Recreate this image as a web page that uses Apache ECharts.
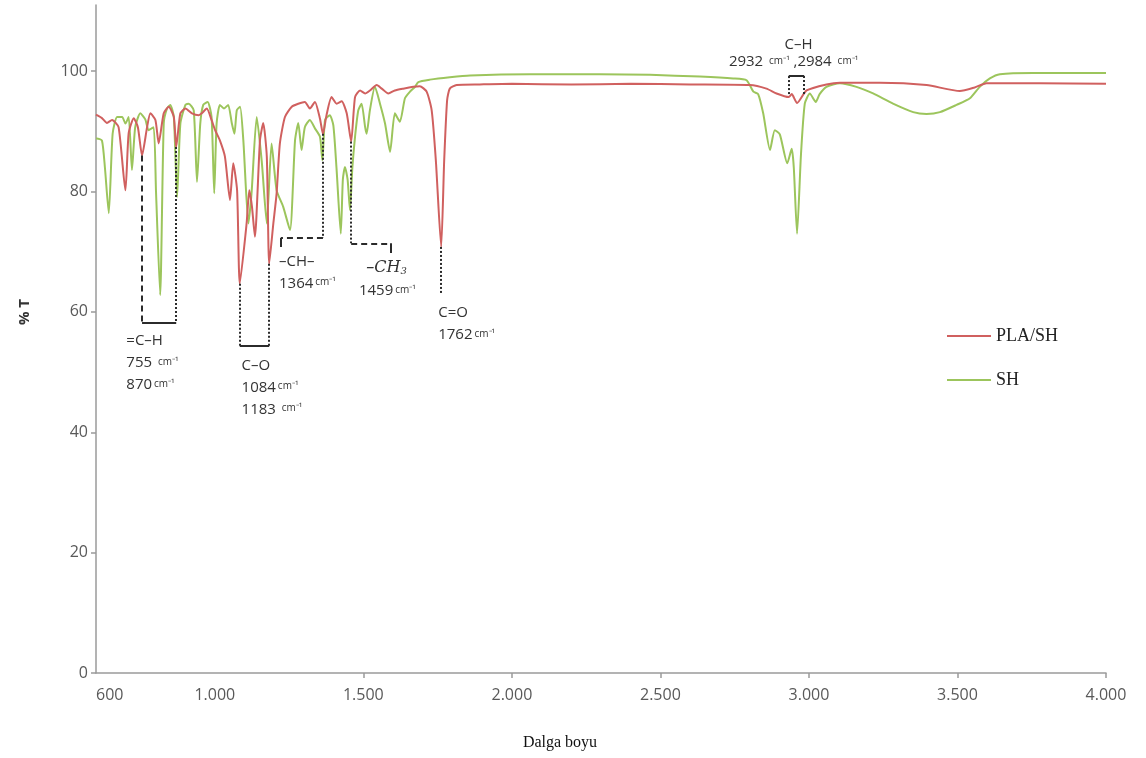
<!DOCTYPE html>
<html>
<head>
<meta charset="utf-8">
<script src="https://cdn.jsdelivr.net/npm/echarts@6/dist/echarts.min.js"></script>
<style>
  html, body { margin: 0; padding: 0; background: #fff; }
  #chart { width: 1146px; height: 758px; }
</style>
</head>
<body>
<div id="chart"></div>
<script>
// FTIR spectra: wavenumber (cm-1) vs. transmittance (%)
const plaWavenumber = [600,603,620,637,654,676,699,710,727,741,755,772,783,800,811,828,845,862,870,884,901,923,946,956,973,989,1001,1017,1034,1051,1062,1075,1084,1107,1116,1125,1135,1152,1163,1175,1183,1197,1208,1219,1236,1259,1281,1303,1320,1337,1354,1364,1376,1393,1410,1427,1444,1459,1472,1489,1506,1522,1545,1562,1584,1606,1634,1668,1690,1713,1730,1744,1762,1772,1782,1791,1814,1892,2000,2200,2400,2600,2801,2857,2891,2932,2942,2960,2992,3059,3104,3239,3396,3508,3558,3598,3777,4000];
const plaTransmittance = [92.8,92.7,92.2,91.4,91.9,90.7,80.2,89.7,92.2,90.7,86.0,90.7,93.0,91.9,88.0,93.0,94.1,92.4,87.4,93.0,93.8,93.0,92.7,93.0,93.8,91.9,90.2,88.5,85.8,78.6,84.7,80.2,64.7,74.7,80.2,77.5,72.5,88.5,91.4,85.8,68.0,74.7,79.7,88.0,92.4,94.1,94.6,94.9,93.8,94.9,92.1,89.6,92.7,95.7,94.6,95.0,93.0,88.3,95.7,96.8,96.3,96.8,97.7,97.1,96.3,96.8,97.1,97.4,97.5,96.6,93.5,85.2,70.8,85.0,95.2,97.1,97.7,97.8,97.9,97.8,97.9,97.8,97.7,97.1,96.3,95.7,96.2,94.7,96.8,97.8,98.1,98.1,97.7,96.7,97.3,98.0,98.0,97.9];

const shWavenumber = [600,603,620,630,643,656,671,688,699,710,721,732,749,766,777,794,802,816,828,839,850,862,873,884,901,912,929,940,951,961,976,989,998,1006,1017,1031,1045,1057,1066,1074,1085,1096,1113,1124,1141,1158,1175,1191,1208,1230,1253,1270,1281,1292,1303,1320,1337,1354,1362,1371,1387,1399,1410,1424,1431,1438,1447,1455,1463,1472,1483,1494,1506,1511,1522,1539,1556,1573,1590,1606,1623,1640,1657,1674,1685,1724,1791,1859,2061,2296,2465,2633,2745,2790,2813,2829,2846,2869,2885,2902,2927,2942,2949,2960,2973,2986,3003,3023,3036,3059,3104,3160,3216,3283,3351,3396,3441,3497,3542,3575,3609,3643,3754,4000];
const shTransmittance = [88.8,88.8,88.5,84.0,76.4,89.6,92.4,92.4,91.3,92.4,83.6,90.7,93.0,92.0,90.2,90.7,80.0,62.8,91.3,93.8,94.4,92.4,79.1,91.3,94.4,94.6,93.5,81.6,91.3,94.4,94.9,92.4,79.7,91.3,94.4,93.8,94.4,91.4,89.6,93.5,94.1,88.5,74.7,80.0,92.4,85.0,74.7,88.0,80.2,77.5,73.6,88.5,91.4,86.9,90.7,91.9,90.5,89.1,85.2,91.9,92.7,91.0,83.6,73.0,82.0,84.1,82.0,76.9,84.0,89.1,93.5,94.6,90.7,89.6,93.5,97.4,94.6,91.3,86.6,93.0,91.6,95.5,96.6,97.4,98.2,98.6,99.0,99.3,99.5,99.5,99.4,99.1,98.8,98.5,96.6,96.2,93.0,86.9,90.2,89.5,84.7,87.1,84.0,73.0,86.0,94.6,96.3,94.9,96.2,97.4,98.0,97.4,96.3,94.6,93.2,92.9,93.2,94.4,95.5,97.4,98.8,99.5,99.7,99.7];

const seriesNames = ['PLA/SH', 'SH'];
const xLabelValues = [600, 1000, 1500, 2000, 2500, 3000, 3500, 4000];
const xTickValues = [1500, 2000, 2500, 3000, 3500, 4000];
const yLabelValues = [0, 20, 40, 60, 80, 100];

// Band assignments: [wavenumber, band minimum %T]
const bandCH_aromatic = [[755, 86.0], [870, 87.4]];
const bandCO = [[1084, 64.7], [1183, 68.0]];
const bandCH = [1364, 89.6];
const bandCH3 = [1459, 88.3];
const bandCO_double = [1762, 70.8];
const bandCH_stretch = [2932, 2984];

const pairs = (xs, ys) => xs.map((x, i) => [x, ys[i]]);
const fmtThousands = v => v >= 1000 ? String(v).replace(/(\d)(\d{3})$/, '$1.$2') : String(v);

const dark = '#2b2b2b';
const dotted = [2, 2];
const dashed = [6, 4];

// bracket / leader segments
const seg = (a, b, type) => [{ coord: a, lineStyle: { type: type, color: dark, width: 2 } }, { coord: b }];
const annotationLines = [
  seg([bandCH_aromatic[0][0], bandCH_aromatic[0][1]], [bandCH_aromatic[0][0], 58.2], dashed),
  seg([bandCH_aromatic[1][0], bandCH_aromatic[1][1]], [bandCH_aromatic[1][0], 58.2], dotted),
  seg([bandCH_aromatic[0][0], 58.2], [bandCH_aromatic[1][0], 58.2], 'solid'),

  seg([bandCO[0][0], bandCO[0][1]], [bandCO[0][0], 54.3], dotted),
  seg([bandCO[1][0], bandCO[1][1]], [bandCO[1][0], 54.3], dotted),
  seg([bandCO[0][0], 54.3], [bandCO[1][0], 54.3], 'solid'),

  seg([bandCH[0], bandCH[1]], [bandCH[0], 72.3], dotted),
  seg([bandCH[0], 72.3], [1222, 72.3], dashed),
  seg([1222, 72.3], [1222, 70.8], 'solid'),

  seg([bandCH3[0], bandCH3[1]], [bandCH3[0], 71.4], dotted),
  seg([bandCH3[0], 71.4], [1592, 71.4], dashed),
  seg([1592, 71.4], [1592, 69.8], 'solid'),

  seg([bandCO_double[0], bandCO_double[1]], [bandCO_double[0], 63.0], dotted),

  seg([bandCH_stretch[0], 96.2], [bandCH_stretch[0], 99.2], dotted),
  seg([bandCH_stretch[0], 99.2], [bandCH_stretch[1], 99.2], 'solid'),
  seg([bandCH_stretch[1], 99.2], [bandCH_stretch[1], 96.2], dotted)
];

const rich = {
  n: { fontFamily: 'Open Sans', fontSize: 15, color: '#333', lineHeight: 22 },
  u: { fontFamily: 'Open Sans', fontSize: 10, color: '#333', lineHeight: 22, padding: [0, 0, 2, 2] },
  i: { fontFamily: 'DejaVu Serif', fontStyle: 'italic', fontSize: 16, color: '#333', lineHeight: 22 },
  s: { fontFamily: 'DejaVu Serif', fontStyle: 'italic', fontSize: 10, color: '#333', lineHeight: 22, padding: [8, 0, 0, 0] }
};
const textAt = (coord, text, align) => ({
  coord: coord,
  symbol: 'circle',
  symbolSize: 0,
  label: { show: true, position: 'inside', align: align || 'left', verticalAlign: 'top', formatter: text, rich: rich }
});
const annotationTexts = [
  textAt([702, 57.0], '{n|=C–H}\n{n|755 }{u|cm⁻¹}\n{n|870}{u|cm⁻¹}'),
  textAt([1090, 52.9], '{n|C–O}\n{n|1084}{u|cm⁻¹}\n{n|1183 }{u|cm⁻¹}'),
  textAt([1216, 70.2], '{n|–CH–}\n{n|1364}{u|cm⁻¹}'),
  textAt([1578, 69.2], '{i|–CH}{s|3}', 'center'),
  textAt([1485, 65.3], '{n|1459}{u|cm⁻¹}'),
  textAt([1752, 61.7], '{n|C=O}\n{n|1762}{u|cm⁻¹}'),
  textAt([2965, 106.2], '{n|C–H}', 'center'),
  textAt([2948, 103.4], '{n|2932 }{u|cm⁻¹}{n| ,2984 }{u|cm⁻¹}', 'center')
];

const chart = echarts.init(document.getElementById('chart'));
chart.setOption({
  animation: false,
  backgroundColor: '#ffffff',
  grid: { left: 96, right: 40, top: 5, bottom: 85, containLabel: false },
  legend: {
    data: seriesNames.map(n => ({ name: n, icon: 'rect' })),
    orient: 'vertical',
    left: 942,
    top: 322,
    itemGap: 26,
    itemWidth: 44,
    itemHeight: 2,
    textStyle: { fontFamily: 'Liberation Serif', fontSize: 18, color: '#222' }
  },
  xAxis: {
    type: 'value',
    min: 600,
    max: 4000,
    name: 'Dalga boyu',
    nameLocation: 'middle',
    nameGap: 62,
    nameTextStyle: { fontFamily: 'Liberation Serif', fontSize: 16, color: '#111', padding: [0, 82, 0, 0] },
    axisLine: { show: true, onZero: false, lineStyle: { color: '#9a9a9a', width: 1.5 } },
    axisTick: { show: true, length: 5, customValues: xTickValues, lineStyle: { color: '#9a9a9a', width: 1.5 } },
    axisLabel: {
      customValues: xLabelValues,
      margin: 14,
      alignMinLabel: 'left',
      fontFamily: 'Open Sans',
      fontSize: 16,
      color: '#595959',
      formatter: v => fmtThousands(v)
    },
    splitLine: { show: false }
  },
  yAxis: {
    type: 'value',
    min: 0,
    max: 111,
    name: '% T',
    nameLocation: 'middle',
    nameGap: 64,
    nameRotate: 90,
    nameTextStyle: { fontFamily: 'Open Sans', fontWeight: 'bold', fontSize: 15, color: '#333', padding: [0, 0, 0, 54] },
    axisLine: { show: true, lineStyle: { color: '#9a9a9a', width: 1.5 } },
    axisTick: { show: true, length: 5, customValues: yLabelValues, lineStyle: { color: '#9a9a9a', width: 1.5 } },
    axisLabel: { customValues: yLabelValues, margin: 8, fontFamily: 'Open Sans', fontSize: 16, color: '#595959' },
    splitLine: { show: false }
  },
  series: [
    {
      name: seriesNames[0],
      type: 'line',
      data: pairs(plaWavenumber, plaTransmittance),
      symbol: 'none',
      smooth: 0.2,
      lineStyle: { color: '#d0605f', width: 2 },
      itemStyle: { color: '#d0605f' },
      z: 3
    },
    {
      name: seriesNames[1],
      type: 'line',
      data: pairs(shWavenumber, shTransmittance),
      symbol: 'none',
      smooth: 0.2,
      lineStyle: { color: '#9cc55c', width: 2 },
      itemStyle: { color: '#9cc55c' },
      z: 2
    },
    {
      name: 'bands',
      type: 'line',
      data: [],
      symbol: 'none',
      silent: true,
      z: 5,
      markLine: { silent: true, symbol: ['none', 'none'], label: { show: false }, data: annotationLines, animation: false },
      markPoint: { silent: true, data: annotationTexts, animation: false }
    }
  ]
});
</script>
</body>
</html>
